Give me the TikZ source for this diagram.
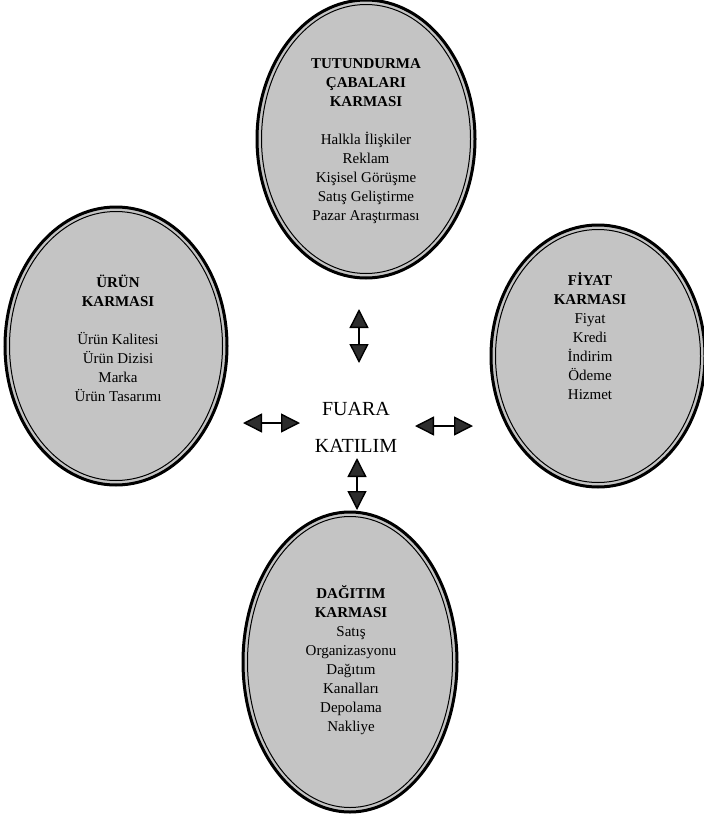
\documentclass[tikz,border=0pt]{standalone}
\usepackage{fontspec}
\setmainfont{Liberation Serif}
\usetikzlibrary{shapes.geometric, arrows.meta, positioning}
\usepackage{xcolor}
\definecolor{karmacolor}{RGB}{196,196,196}
\definecolor{tipcolor}{RGB}{45,45,45}

\begin{document}
\begin{tikzpicture}[x=1pt,y=-1pt]
  \tikzset{
    karma/.style={
      ellipse,
      draw,
      line width=3pt,
      fill=karmacolor,
      inner sep=0pt
    },
    ring/.style={
      draw,
      line width=1pt
    },
    yazi/.style={
      align=center,
      font=\fontsize{15}{19}\selectfont
    },
    merkez/.style={
      align=center,
      font=\fontsize{20}{37}\selectfont
    },
    cift/.style={
      {Triangle[length=19pt,width=19pt,fill=tipcolor]}-{Triangle[length=19pt,width=19pt,fill=tipcolor]},
      line width=1.4pt
    }
  }
  \useasboundingbox (0,0) rectangle (704,822);

  % Draw the four mix ellipses
    \node[karma, minimum width=218pt, minimum height=278pt] at (366, 139) (tutundurma) {};
    \draw[ring] (tutundurma.center) ellipse [x radius=104.5pt, y radius=134.5pt];

    \node[karma, minimum width=222pt, minimum height=278pt] at (116, 346) (urun) {};
    \draw[ring] (urun.center) ellipse [x radius=106.5pt, y radius=134.5pt];

    \node[karma, minimum width=214pt, minimum height=262pt] at (598, 356) (fiyat) {};
    \draw[ring] (fiyat.center) ellipse [x radius=102.5pt, y radius=126.5pt];

    \node[karma, minimum width=214pt, minimum height=300pt] at (350, 662) (dagitim) {};
    \draw[ring] (dagitim.center) ellipse [x radius=102.5pt, y radius=145.5pt];

  % Texts inside the ellipses
    \node[yazi] at (366, 141) (tutundurmayazi) {
        \textbf{TUTUNDURMA}\\ \textbf{ÇABALARI}\\ \textbf{KARMASI}\\[19pt]
        Halkla İlişkiler\\ Reklam\\ Kişisel Görüşme\\ Satış Geliştirme\\ Pazar Araştırması
    };
    \node[yazi] at (118, 338) (urunyazi) {
        \textbf{ÜRÜN}\\ \textbf{KARMASI}\\[19pt]
        Ürün Kalitesi\\ Ürün Dizisi\\ Marka\\ Ürün Tasarımı
    };
    \node[yazi] at (590, 336) (fiyatyazi) {
        \textbf{FİYAT}\\ \textbf{KARMASI}\\
        Fiyat\\ Kredi\\ İndirim\\ Ödeme\\ Hizmet
    };
    \node[yazi] at (351, 660) (dagitimyazi) {
        \textbf{DAĞITIM}\\ \textbf{KARMASI}\\
        Satış\\ Organizasyonu\\ Dağıtım\\ Kanalları\\ Depolama\\ Nakliye
    };

  % Center text
    \node[merkez] at (356, 427) (fuara) {
        FUARA\\ KATILIM
    };

  % Arrow ends
    \coordinate (ust1) at (359, 309);
    \coordinate (ust2) at (359, 363);
    \coordinate (sol1) at (243, 423);
    \coordinate (sol2) at (300, 423);
    \coordinate (sag1) at (415, 426);
    \coordinate (sag2) at (473, 426);
    \coordinate (alt1) at (357, 458);
    \coordinate (alt2) at (357, 510);

  % Double arrows
    \draw[cift] (ust1) -- (ust2);
    \draw[cift] (sol1) -- (sol2);
    \draw[cift] (sag1) -- (sag2);
    \draw[cift] (alt1) -- (alt2);

\end{tikzpicture}
\end{document}
